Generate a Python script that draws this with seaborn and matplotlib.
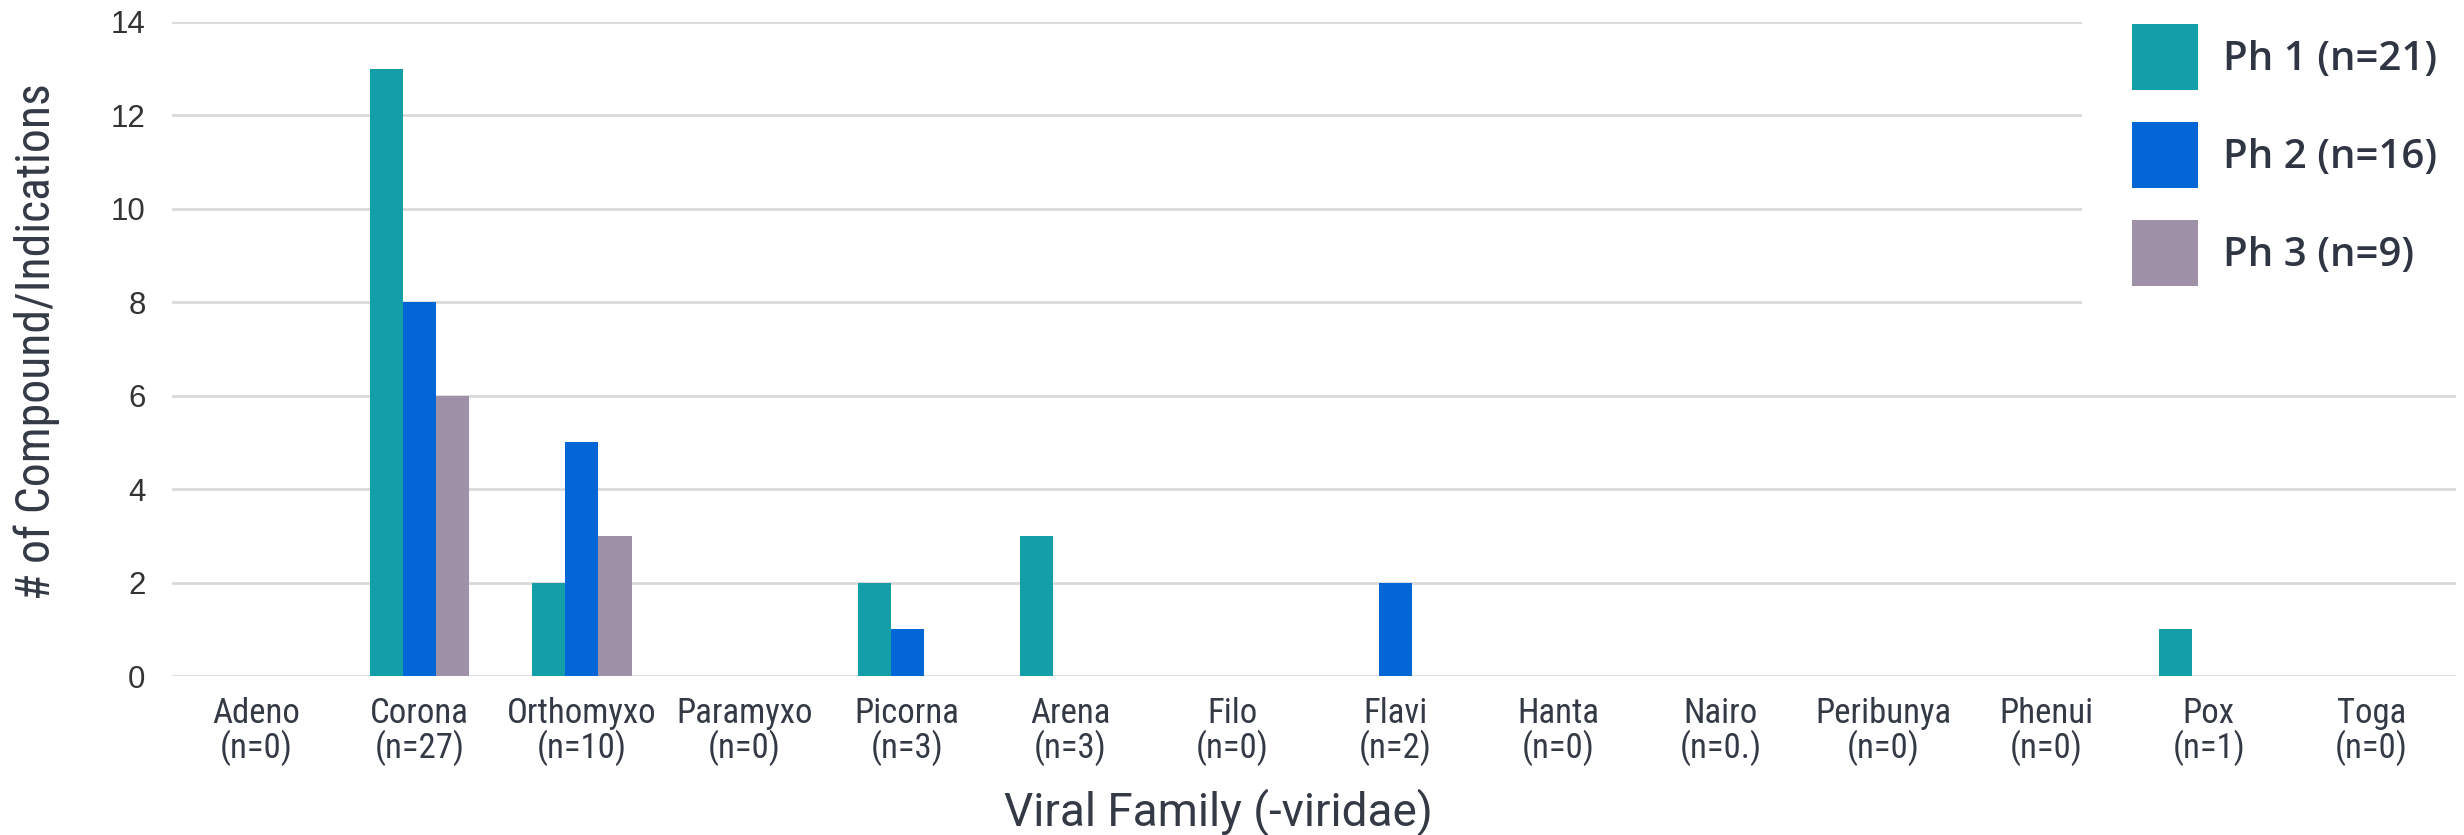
import matplotlib
matplotlib.use("Agg")
import matplotlib.pyplot as plt
import seaborn as sns
import pandas as pd

families = ["Adeno", "Corona", "Orthomyxo", "Paramyxo", "Picorna", "Arena", "Filo",
            "Flavi", "Hanta", "Nairo", "Peribunya", "Phenui", "Pox", "Toga"]
family_n = ["0", "27", "10", "0", "3", "3", "0", "2", "0", "0.", "0", "0", "1", "0"]
phase_labels = ["Ph 1 (n=21)", "Ph 2 (n=16)", "Ph 3 (n=9)"]
ph1 = [0, 13, 2, 0, 2, 3, 0, 0, 0, 0, 0, 0, 1, 0]
ph2 = [0, 8, 5, 0, 1, 0, 0, 2, 0, 0, 0, 0, 0, 0]
ph3 = [0, 6, 3, 0, 0, 0, 0, 0, 0, 0, 0, 0, 0, 0]
colors = ["#139EA8", "#0366D6", "#9E91A8"]

rows = []
for label, vals in zip(phase_labels, [ph1, ph2, ph3]):
    for fam, v in zip(families, vals):
        rows.append({"family": fam, "phase": label, "count": v})
df = pd.DataFrame(rows)

sns.set_theme(style="white")
narrow = ["Roboto Condensed", "Roboto", "DejaVu Sans"]
plt.rcParams["font.family"] = ["Liberation Sans", "DejaVu Sans"]
text_color = "#333a45"

W, H = 2464, 835
fig = plt.figure(figsize=(W / 100, H / 100), dpi=100)
ax = fig.add_axes([172 / W, 1 - 676 / H, (2456 - 172) / W, (676 - 22) / H])

sns.barplot(data=df, x="family", y="count", hue="phase", order=families,
            hue_order=phase_labels, palette=colors, width=0.61, gap=0,
            saturation=1, ax=ax, legend=True, linewidth=0)

ax.set_xlim(-0.52, 13.52)
ax.set_ylim(0, 14)
ax.set_yticks(range(0, 15, 2))
ax.grid(axis="y", color="#D9D9D9", linewidth=2)
ax.set_axisbelow(True)
for s in ax.spines.values():
    s.set_visible(False)
ax.tick_params(axis="both", length=0)
ax.tick_params(axis="y", pad=19, labelsize=22.5, labelcolor="#333333")

ax.set_xticks(range(len(families)))
ax.set_xticklabels([f"{f}\n(n={n})" for f, n in zip(families, family_n)],
                   fontsize=25, color=text_color, family=narrow, linespacing=1.0)
ax.tick_params(axis="x", pad=15)

ax.set_xlabel("Viral Family (-viridae)", fontsize=33, color=text_color,
              family=["Roboto", "DejaVu Sans"])
ax.xaxis.set_label_coords((1218 - 172) / (2456 - 172), -(812 - 676) / (676 - 22))
ax.xaxis.label.set_va("center")

ax.set_ylabel("# of Compound/Indications", fontsize=34.3, color=text_color, family=narrow)
ax.yaxis.set_label_coords((37 - 172) / (2456 - 172), (676 - 342) / (676 - 22))
ax.yaxis.label.set_va("center")

leg = ax.legend(loc="upper left", bbox_to_anchor=(2082 / W, 1 + 26 / H),
                bbox_transform=fig.transFigure,
                prop={"family": ["Open Sans", "DejaVu Sans"], "weight": "semibold", "size": 29},
                frameon=True, facecolor="white", edgecolor="none", framealpha=1,
                handlelength=1.64, handleheight=2.14, handletextpad=0.62,
                labelspacing=0.8, borderpad=1.24, borderaxespad=0, fancybox=False)
for t in leg.get_texts():
    t.set_color("#2F3542")

fig.savefig("out.png", dpi=100)
